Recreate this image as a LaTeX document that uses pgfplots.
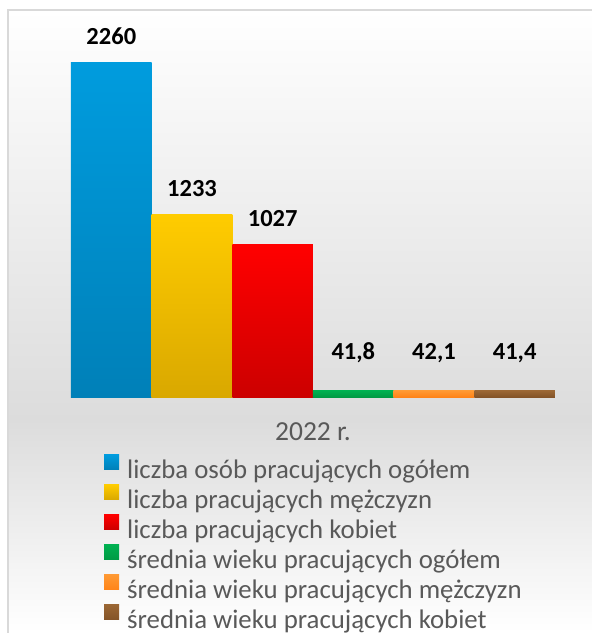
\documentclass[border=0pt]{standalone}
\usepackage{pgfplots}
\pgfplotsset{compat=1.18}
\usepackage{fontspec}
\setmainfont{Carlito}
\definecolor{bgG}{HTML}{DCDCDC}
\definecolor{frameC}{HTML}{D9D9D9}
\definecolor{txtG}{HTML}{595959}
\definecolor{blueT}{HTML}{009CDE}\definecolor{blueB}{HTML}{0080B8}
\definecolor{yelT}{HTML}{FFCC00}\definecolor{yelB}{HTML}{D9A800}
\definecolor{redT}{HTML}{FF0000}\definecolor{redB}{HTML}{CC0000}
\definecolor{grnT}{HTML}{00B050}\definecolor{grnB}{HTML}{009A44}
\definecolor{orgT}{HTML}{FF9933}\definecolor{orgB}{HTML}{FF8418}
\definecolor{brnT}{HTML}{9A6634}\definecolor{brnB}{HTML}{845428}
\begin{document}
\begin{tikzpicture}
\useasboundingbox (0pt,0pt) rectangle (592pt,633pt);
\fill[white] (0pt,0pt) rectangle (592pt,633pt);
\shade[top color=white, bottom color=bgG] (8pt,213pt) rectangle (592pt,623pt);
\shade[top color=bgG, bottom color=white] (8pt,0pt) rectangle (592pt,213.5pt);
\draw[line width=2pt, frameC] (8pt,0pt) -- (8pt,623pt) -- (592pt,623pt);
\begin{axis}[
  at={(71pt,236pt)}, anchor=south west,
  scale only axis, width=484pt, height=335pt,
  xmin=-0.5, xmax=5.5, ymin=0, ymax=2260,
  clip=false,
  hide y axis,
  axis x line*=bottom,
  x axis line style={draw=none},
  xtick={2.5}, xticklabels={2022 r.},
  major tick length=0pt,
  xticklabel style={anchor=center, yshift=-35pt, text=txtG, font=\fontsize{27.5}{32}\selectfont},
  ybar, bar width=80.67pt, bar shift=0pt,
  /pgf/number format/.cd, use comma, 1000 sep={}, assume math mode=true, /pgfplots/.cd,
  nodes near coords={\pgfmathprintnumber[assume math mode=true]{\pgfplotspointmeta}},
  every node near coord/.append style={anchor=base, inner sep=0pt, yshift=18pt, text=black, font=\bfseries\fontsize{24.5}{30}\selectfont},
  legend style={at={(0.0682,-0.1715)}, anchor=north west, draw=none, fill=none,
    inner sep=0pt, row sep=5pt, column sep=8pt,
    nodes={inner sep=0pt, text=txtG},
    font=\fontsize{26.8}{32}\selectfont},
  legend cell align=left,
  legend image code/.code={\path[#1, draw=none] (0pt,0pt) rectangle (15pt,15pt);},
]
\addplot[draw=none, top color=blueT, bottom color=blueB] coordinates {(0,2260)};
\addlegendentry{liczba osób pracujących ogółem}
\addplot[draw=none, top color=yelT, bottom color=yelB] coordinates {(1,1233)};
\addlegendentry{liczba pracujących mężczyzn}
\addplot[draw=none, top color=redT, bottom color=redB] coordinates {(2,1027)};
\addlegendentry{liczba pracujących kobiet}
\addplot[draw=none, top color=grnT, bottom color=grnB,
  nodes near coords style={yshift=13pt, /pgf/number format/.cd, fixed, fixed zerofill, precision=1}] coordinates {(3,41.8)};
\addlegendentry{średnia wieku pracujących ogółem}
\addplot[draw=none, top color=orgT, bottom color=orgB,
  nodes near coords style={yshift=13pt, /pgf/number format/.cd, fixed, fixed zerofill, precision=1}] coordinates {(4,42.1)};
\addlegendentry{średnia wieku pracujących mężczyzn}
\addplot[draw=none, top color=brnT, bottom color=brnB,
  nodes near coords style={yshift=13pt, /pgf/number format/.cd, fixed, fixed zerofill, precision=1}] coordinates {(5,41.4)};
\addlegendentry{średnia wieku pracujących kobiet}
\end{axis}
\end{tikzpicture}
\end{document}
